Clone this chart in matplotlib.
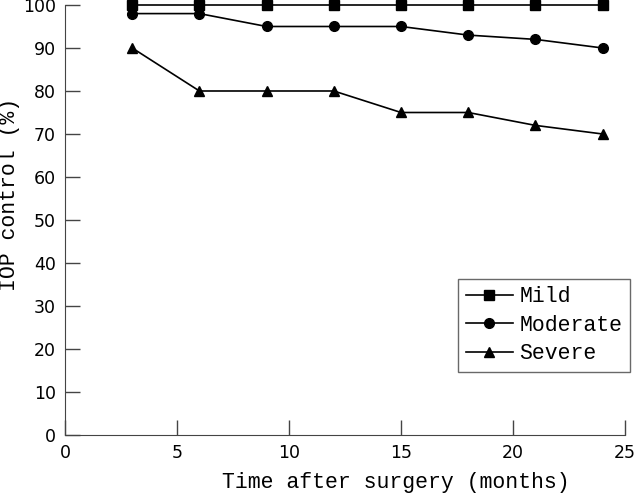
import matplotlib
matplotlib.use("Agg")
import matplotlib.pyplot as plt

months = [3, 6, 9, 12, 15, 18, 21, 24]
mild = [100, 100, 100, 100, 100, 100, 100, 100]
moderate = [98, 98, 95, 95, 95, 93, 92, 90]
severe = [90, 80, 80, 80, 75, 75, 72, 70]

plt.rcParams["font.family"] = ["Liberation Mono", "DejaVu Sans Mono"]

fig = plt.figure(figsize=(6.4, 4.94), dpi=100)
ax = fig.add_axes([0.1016, 0.1194, 0.8750, 0.8705])

ax.plot(months, mild, color="black", lw=1.2, marker="s", ms=7, label="Mild", clip_on=False)
ax.plot(months, moderate, color="black", lw=1.2, marker="o", ms=7, label="Moderate", clip_on=False)
ax.plot(months, severe, color="black", lw=1.2, marker="^", ms=7.5, label="Severe", clip_on=False)

ax.set_xlim(0, 25)
ax.set_ylim(0, 100)
ax.set_xticks(range(0, 26, 5))
ax.set_yticks(range(0, 101, 10))
for s in ("top", "right"):
    ax.spines[s].set_visible(False)
for s in ("left", "bottom"):
    ax.spines[s].set_color("#444444")
ax.tick_params(direction="in", length=11, width=1, color="#444444", labelsize=12.5, pad=6.5)
for lab in ax.get_xticklabels() + ax.get_yticklabels():
    lab.set_family("DejaVu Sans")

ax.set_xlabel("Time after surgery (months)", fontsize=15.5)
ax.xaxis.set_label_coords(331 / 560, -37 / 430)
ax.set_ylabel("IOP control (%)", fontsize=15.5)
ax.yaxis.set_label_coords(-45 / 560, 241 / 430)

leg = ax.legend(loc="lower right", bbox_to_anchor=(630 / 640, 1 - 372 / 494),
                bbox_transform=fig.transFigure, borderaxespad=0, fontsize=15.5,
                frameon=True, fancybox=False, edgecolor="#444444", handlelength=2.2,
                borderpad=0.35, labelspacing=0.35, handletextpad=0.3)
leg.get_frame().set_linewidth(1)

fig.savefig("out.png", dpi=100)
